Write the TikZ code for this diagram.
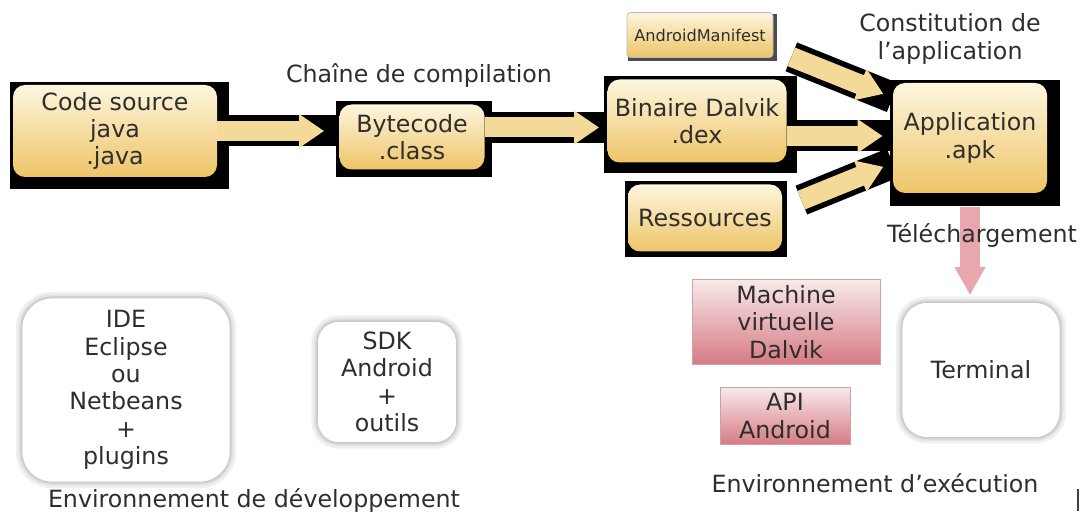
\documentclass[tikz,border=0pt]{standalone}
\usepackage{fontspec}
\setmainfont{DejaVu Sans}
\usetikzlibrary{arrows.meta,backgrounds}
\definecolor{ink}{HTML}{2E2E2E}
\definecolor{creamtop}{HTML}{FDF6DE}
\definecolor{goldbot}{HTML}{EEC467}
\definecolor{pinktop}{HTML}{F8EAEA}
\definecolor{pinkbot}{HTML}{D67A83}
\definecolor{pinkline}{HTML}{C9A3A6}
\definecolor{arrowfill}{HTML}{F4DA98}
\definecolor{dlpink}{HTML}{E8A7AF}

\begin{document}
\begin{tikzpicture}[
        font=\fontsize{13.5}{15.6}\selectfont,
        text=ink,
        stepbox/.style={
            top color=creamtop,
            bottom color=goldbot,
            rounded corners=0.24cm,
            align=center,
            inner sep=2pt
        },
        vmbox/.style={
            draw=pinkline,
            top color=pinktop,
            bottom color=pinkbot,
            align=center,
            inner sep=2pt
        },
        toolbox/.style={
            draw=black!22,
            fill=white,
            align=center,
            preaction={draw=black!6,line width=7pt},
            preaction={draw=black!11,line width=4pt},
            preaction={draw=black!18,line width=2pt}
        },
        band/.style={
            line width=0.62cm,
            draw=black
        },
        fatarrow/.style={
            line width=0.4cm,
            draw=arrowfill,
            -{Triangle[length=0.5cm,width=0.64cm]}
        },
        dlarrow/.style={
            line width=0.4cm,
            draw=dlpink,
            -{Triangle[length=0.56cm,width=0.58cm]}
        }
    ]

        \useasboundingbox (0,0) rectangle (21.7,-10.34);

        % Chaîne de compilation
        \node[stepbox,minimum width=4.08cm,minimum height=1.84cm] (code) at (2.30,-2.62)
            {Code source\\java\\.java};
        \node[stepbox,minimum width=2.9cm,minimum height=1.3cm] (byte) at (8.24,-2.74)
            {Bytecode\\.class};
        \node[stepbox,minimum width=3.58cm,minimum height=1.66cm] (dex) at (13.94,-2.42)
            {Binaire Dalvik\\.dex};
        \node[stepbox,minimum width=3.08cm,minimum height=1.34cm] (res) at (14.10,-4.36)
            {Ressources};
        \node[
            stepbox,
            draw=gray!55,
            rounded corners=2pt,
            minimum width=2.92cm,
            minimum height=0.9cm,
            font=\fontsize{9.2}{11}\selectfont
        ] (manif) at (14.00,-0.70)
            {AndroidManifest};
        \node[stepbox,minimum width=3.08cm,minimum height=2.2cm] (apk) at (19.40,-2.76)
            {Application\\.apk};

        \node (chainelbl) at (8.38,-1.50) {Chaîne de compilation};
        \node[align=center] (constitlbl) at (19.00,-0.78) {Constitution de\\l'application};

        % Ombres noires et bandes des flèches
        \begin{scope}[on background layer]
            \foreach \n/\d in {code/0.24,byte/0.14,dex/0.2,res/0.1,apk/0.26}
                \fill[black] ([shift={(-0.06cm,0.06cm)}]\n.north west)
                    rectangle ([shift={(\d cm,-\d cm)}]\n.south east);
            \fill[black!70] ([shift={(0.03cm,-0.03cm)}]manif.north west)
                rectangle ([shift={(0.07cm,-0.07cm)}]manif.south east);

            \draw[band] (code.east) -- (code.east -| byte.west);
            \draw[band] ([yshift=0.19cm]byte.east) -- ([yshift=0.19cm]byte.east -| dex.west);
            \draw[band] ([yshift=-0.3cm]dex.east) -- ([yshift=-0.3cm]dex.east -| apk.west);
            \draw[band] ([shift={(0.36cm,0.02cm)}]manif.south east) -- ([yshift=-0.3cm]apk.north west);
            \draw[band] ([shift={(0.38cm,-0.32cm)}]res.north east) -- ([yshift=-0.5cm]apk.west);
        \end{scope}

        \draw[fatarrow,shorten >=0.3cm] (code.east) -- (code.east -| byte.west);
        \draw[fatarrow,shorten >=0.16cm] ([yshift=0.19cm]byte.east) -- ([yshift=0.19cm]byte.east -| dex.west);
        \draw[fatarrow,shorten >=0.2cm] ([yshift=-0.3cm]dex.east) -- ([yshift=-0.3cm]dex.east -| apk.west);
        \draw[fatarrow,shorten >=0.2cm] ([shift={(0.36cm,0.02cm)}]manif.south east) -- ([yshift=-0.3cm]apk.north west);
        \draw[fatarrow,shorten >=0.2cm] ([shift={(0.38cm,-0.32cm)}]res.north east) -- ([yshift=-0.5cm]apk.west);

        % Environnement d'exécution
        \node[toolbox,rounded corners=0.5cm,minimum width=3.16cm,minimum height=2.7cm] (term) at (19.62,-7.40)
            {Terminal};
        \node[vmbox,minimum width=3.76cm,minimum height=1.7cm] (mvd) at (15.72,-6.44)
            {Machine\\virtuelle\\Dalvik};
        \node[vmbox,minimum width=2.6cm,minimum height=1.14cm] (api) at (15.70,-8.32)
            {API\\Android};

        \draw[dlarrow,shorten <=0.28cm,shorten >=0.14cm] (apk.south) -- (apk.south |- term.north);
        \node (telechlbl) at (19.64,-4.70) {Téléchargement};

        \node (execlbl) at (17.50,-9.66) {Environnement d'exécution};

        % Environnement de développement
        \node[toolbox,rounded corners=0.6cm,minimum width=4.16cm,minimum height=3.68cm] (ide) at (2.52,-7.80)
            {IDE\\Eclipse\\ou\\Netbeans\\+\\plugins};
        \node[toolbox,rounded corners=0.42cm,minimum width=2.78cm,minimum height=2.42cm] (sdk) at (7.74,-7.64)
            {SDK\\Android\\+\\outils};

        \node (devlbl) at (5.08,-10.00) {Environnement de développement};

        \draw[line width=1.2pt,black!75] (21.56,-9.78) -- (21.56,-10.22);

    \end{tikzpicture}
\end{document}
